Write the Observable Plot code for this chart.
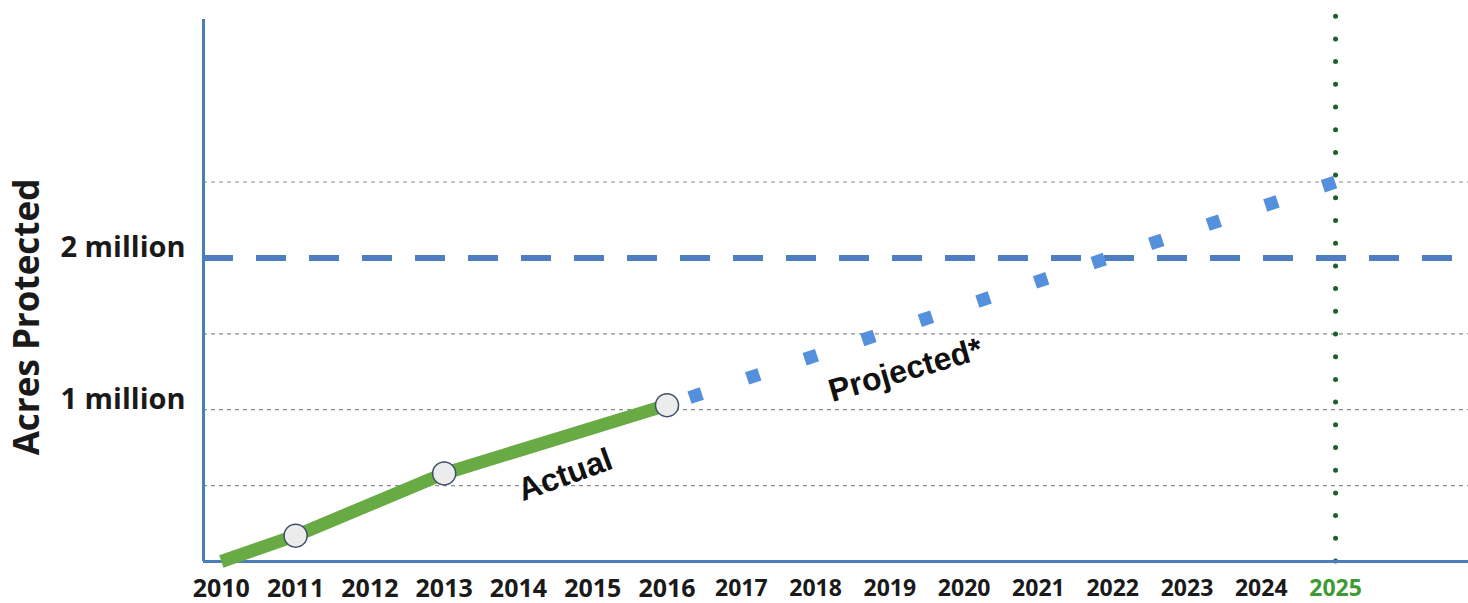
<!DOCTYPE html>
<html>
<head>
<meta charset="utf-8">
<script src="https://cdn.jsdelivr.net/npm/d3@7"></script>
<script src="https://cdn.jsdelivr.net/npm/@observablehq/plot@0.6"></script>
<style>
  html, body { margin: 0; padding: 0; background: #ffffff; }
  #chart svg { display: block; }
</style>
</head>
<body>
<div id="chart"></div>
<script>
// ---- data (acres in millions) ----
const actualYears = [2010, 2011, 2013, 2016];
const actualAcres = [0, 0.17, 0.58, 1.03];
const projectedYears = [2016, 2025];
const projectedAcres = [1.03, 2.5];
const gridLevels = [0.5, 1, 1.5, 2.5];
const goalLevel = 2;
const targetYear = 2025;
const tickYears = [2010, 2011, 2012, 2013, 2014, 2015, 2016, 2017, 2018, 2019, 2020, 2021, 2022, 2023, 2024, 2025];
const yTickValues = [1, 2];
const yTickLabels = ["1 million", "2 million"];
const annotationText = ["Actual", "Projected*"];
const annotationYear = [2014.63, 2019.21];
const annotationAcres = [0.57, 1.26];
const annotationAngle = [-20, -16];
const yTitle = "Acres Protected";

const xDomain = [2009.76, 2026.79];
const yDomain = [0, 3.63];
const axisTop = 3.57;

const actual = actualYears.map((x, i) => ({x, y: actualAcres[i]}));
const projected = projectedYears.map((x, i) => ({x, y: projectedAcres[i]}));
const annotations = annotationText.map((t, i) => ({t, x: annotationYear[i], y: annotationAcres[i], a: annotationAngle[i]}));

const blue = "#4a7ebb";
const chart = Plot.plot({
  width: 1468,
  height: 603,
  marginLeft: 203,
  marginRight: 0,
  marginTop: 10,
  marginBottom: 42,
  style: {background: "#ffffff", overflow: "visible", fontFamily: "'Open Sans', sans-serif"},
  x: {domain: xDomain},
  y: {domain: yDomain},
  marks: [
    Plot.ruleY(gridLevels, {stroke: "#8c8c8c", strokeWidth: 1.2, strokeDasharray: "4,4"}),
    Plot.ruleY([goalLevel], {stroke: "#4f7fc0", strokeWidth: 6, strokeDasharray: "30,23"}),
    Plot.ruleX([targetYear], {y1: 0, y2: 3.62, stroke: "#1e6128", strokeWidth: 5, strokeLinecap: "round", strokeDasharray: "0,22.7"}),
    Plot.ruleX([xDomain[0]], {y1: 0, y2: axisTop, stroke: blue, strokeWidth: 3}),
    Plot.ruleY([0], {stroke: blue, strokeWidth: 3}),
    Plot.line(projected, {x: "x", y: "y", stroke: "#5590dd", strokeWidth: 13, strokeLinecap: "butt", strokeDasharray: "13,47.7", strokeDashoffset: 37}),
    Plot.line(actual, {x: "x", y: "y", stroke: "#68ab45", strokeWidth: 13, strokeLinecap: "butt", strokeLinejoin: "round"}),
    Plot.dot(actual.slice(1), {x: "x", y: "y", r: 11.5, fill: "#ececec", stroke: "#3f4f6b", strokeWidth: 1.5}),
    Plot.axisX(tickYears, {
      tickSize: 0, tickPadding: 18, label: null,
      tickFormat: d => String(d),
      fontSize: d => d <= 2016 ? 25 : 23, fontWeight: 700,
      fill: d => d === targetYear ? "#3d9b35" : "#1a1a1a"
    }),
    Plot.axisY(yTickValues, {
      tickSize: 0, tickPadding: 18, label: null,
      tickFormat: d => yTickLabels[yTickValues.indexOf(d)],
      fontSize: 29, fontWeight: 700, fill: "#1a1a1a", dy: -10
    }),
    Plot.text([yTitle], {frameAnchor: "left", text: d => d, textAnchor: "middle", dx: -176, dy: 31, rotate: -90, fontSize: 35, fontWeight: 700, fill: "#1a1a1a"}),
    Plot.text(annotations, {x: "x", y: "y", text: "t", rotate: "a", fontSize: 32, fontWeight: 700, fill: "#111111", fontFamily: "'Liberation Sans', Arial, sans-serif"})
  ]
});
document.getElementById("chart").appendChild(chart);
</script>
</body>
</html>
